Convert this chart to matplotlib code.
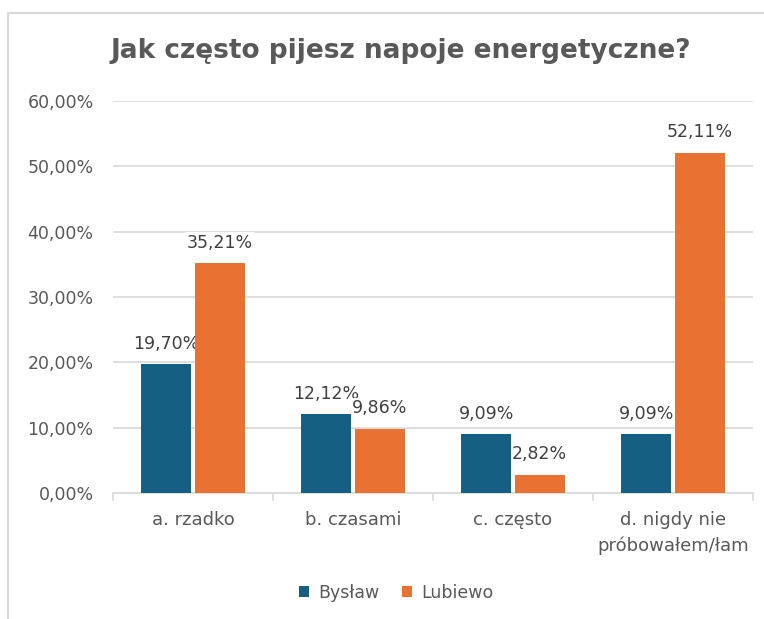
import matplotlib
matplotlib.use("Agg")
import matplotlib.pyplot as plt
import numpy as np
from matplotlib.patches import Rectangle

categories = ["a. rzadko", "b. czasami", "c. często", "d. nigdy nie\npróbowałem/łam"]
bystaw = [19.70, 12.12, 9.09, 9.09]
lubiewo = [35.21, 9.86, 2.82, 52.11]
series_names = ["Bysław", "Lubiewo"]
yticks = [0, 10, 20, 30, 40, 50, 60]

c_blue = "#156082"
c_orange = "#E97132"
txt = "#595959"

fig = plt.figure(figsize=(7.64, 6.19), dpi=100)
fig.patch.set_facecolor("white")
# chart frame
fig.add_artist(Rectangle((8/764, -0.01), 1.0, 1 - 13/619 + 0.01, transform=fig.transFigure,
                         fill=False, edgecolor="#D9D9D9", linewidth=1.5))

ax = fig.add_axes([113/764, 1 - 493/619, 640/764, 392/619])
x = np.arange(len(categories))
w = 0.31
gap = 0.0125
b1 = ax.bar(x - w/2 - gap, bystaw, w, color=c_blue, label=series_names[0], zorder=3)
b2 = ax.bar(x + w/2 + gap, lubiewo, w, color=c_orange, label=series_names[1], zorder=3)

ax.set_xlim(-0.5, len(categories) - 0.5)
ax.set_ylim(0, 60)
ax.set_yticks(yticks)
ax.set_yticklabels([f"{v:.2f}".replace(".", ",") + "%" for v in yticks])
ax.yaxis.grid(True, color="#D9D9D9", linewidth=1.2, zorder=0)
ax.set_axisbelow(True)
for s in ["top", "right", "left"]:
    ax.spines[s].set_visible(False)
ax.spines["bottom"].set_color("#D9D9D9")
ax.spines["bottom"].set_linewidth(1.2)
ax.tick_params(axis="y", length=0, pad=14, labelsize=12.5, labelcolor=txt)
ax.set_xticks(x)
ax.set_xticklabels(categories, fontsize=13, color=txt, linespacing=1.5)
ax.tick_params(axis="x", length=0, pad=13)
# category boundary ticks
ax.set_xticks(np.arange(-0.5, len(categories)), minor=True)
ax.tick_params(axis="x", which="minor", length=6, color="#D9D9D9", width=1.2)

def fmt(v):
    return f"{v:.2f}".replace(".", ",") + "%"

for bars, vals in [(b1, bystaw), (b2, lubiewo)]:
    for r, v in zip(bars, vals):
        ax.annotate(fmt(v), (r.get_x() + r.get_width()/2, v), xytext=(0, 8),
                    textcoords="offset points", ha="center", va="bottom",
                    fontsize=12.5, color="#404040", zorder=2,
                    bbox=dict(facecolor="white", edgecolor="none", pad=1))

fig.text(0.525, 1 - 51/619, "Jak często pijesz napoje energetyczne?", ha="center", va="center",
         fontsize=19, fontweight="bold", color=txt)

leg = fig.legend(handles=[b1, b2], labels=series_names, loc="center", bbox_to_anchor=(396/764, 1 - 593/619),
                 ncol=2, frameon=False, fontsize=12.5, handlelength=0.6, handleheight=0.6,
                 handletextpad=0.5, columnspacing=1.3)
for t in leg.get_texts():
    t.set_color(txt)

fig.savefig("out.png", dpi=100, facecolor="white")
